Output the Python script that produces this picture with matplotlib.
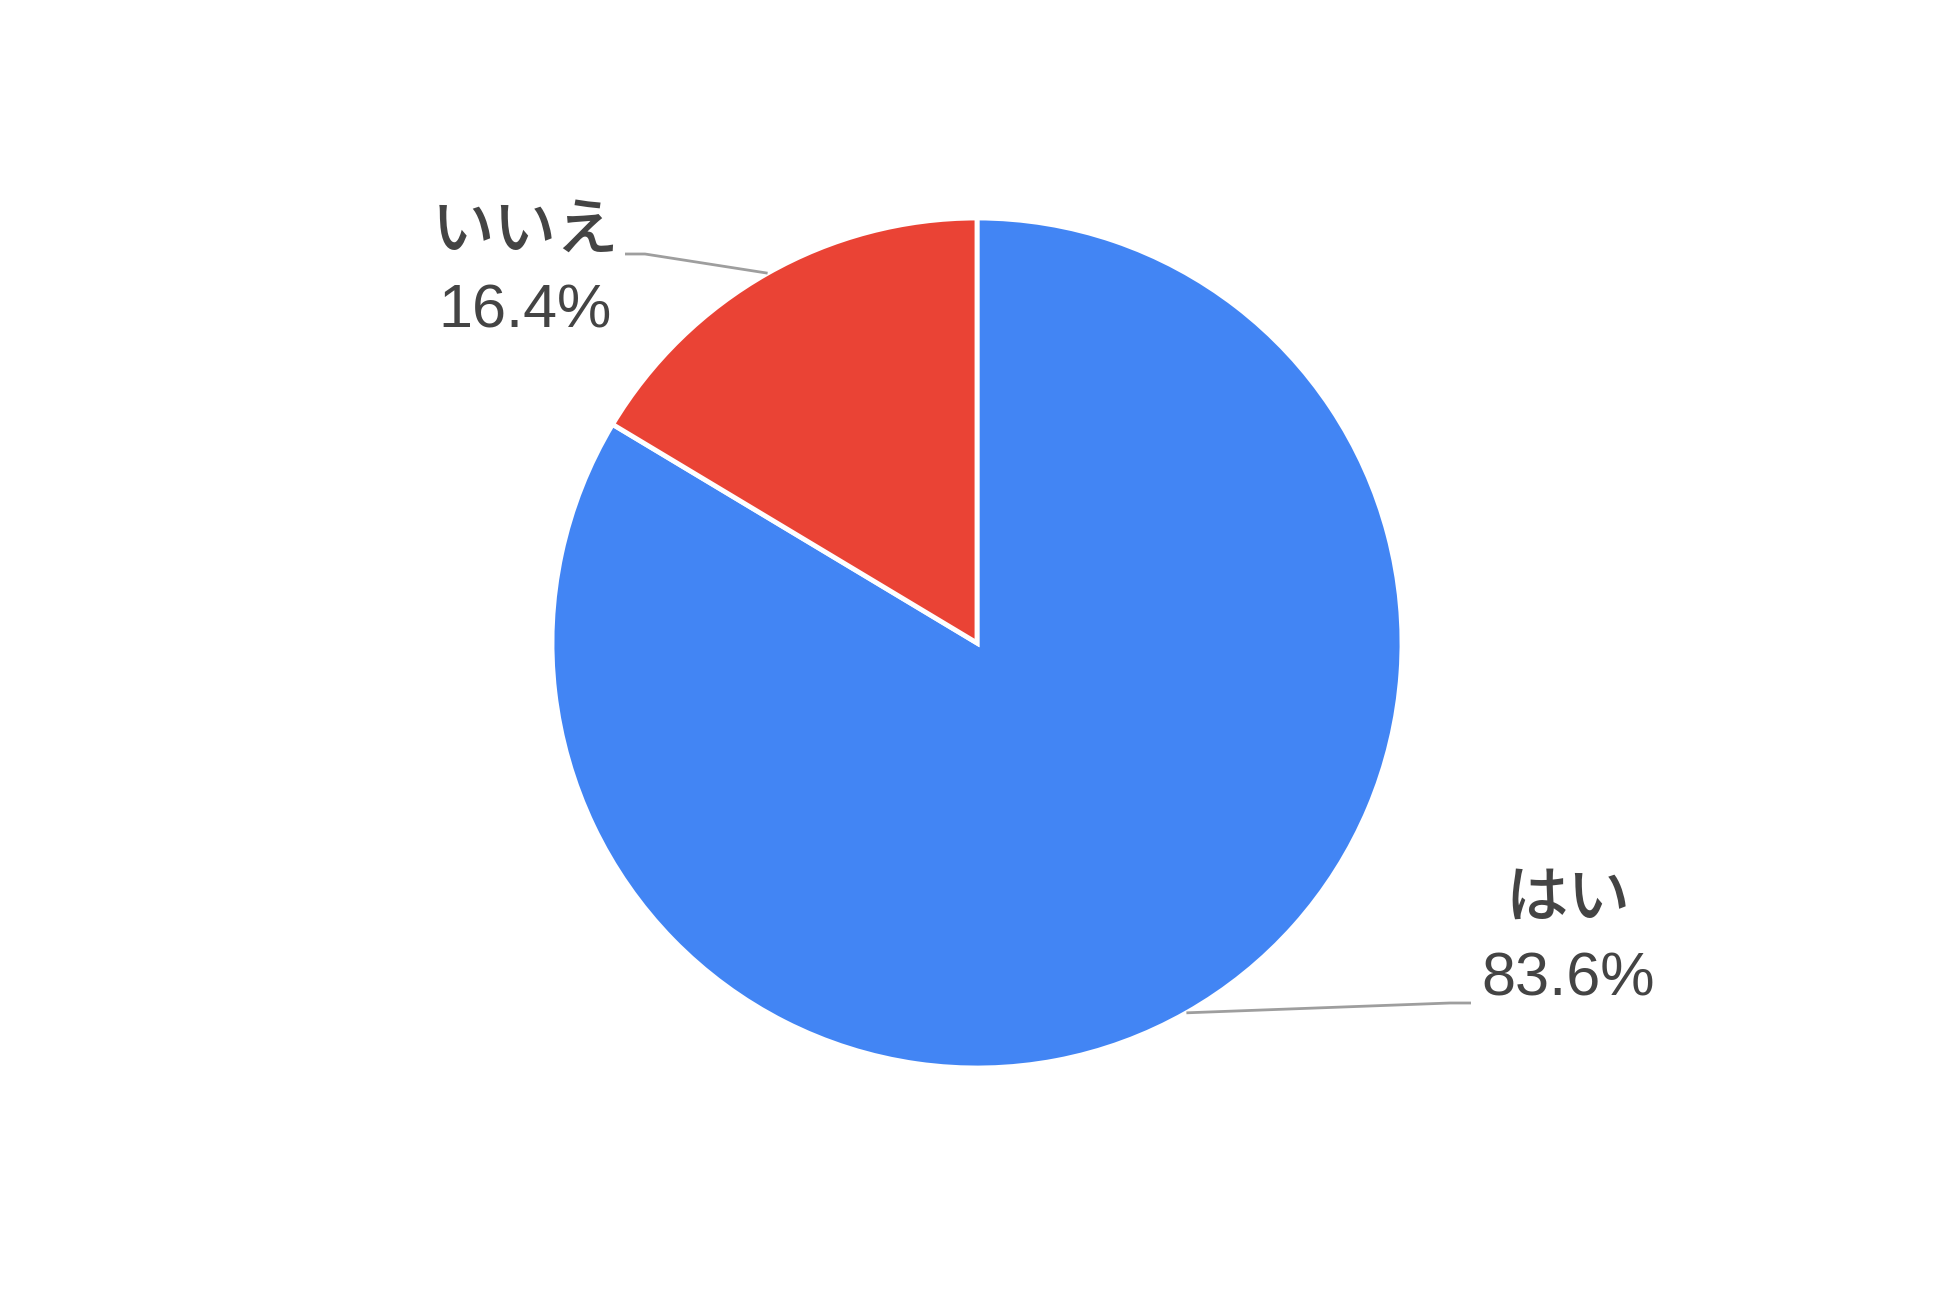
import numpy as np
import matplotlib.pyplot as plt

labels = ['はい', 'いいえ']
values = [83.6, 16.4]
colors = ['#4285F4', '#EA4335']

# label layout (pixel coords, y up)
label_pos = [(1568, 350), (525, 1018)]
elbow = [(1450, 287), (645, 1036)]
tail = [(1471, 287), (625, 1036)]

W, H = 1950, 1290
center = (977, 647)
radius = 425

fig = plt.figure(figsize=(W / 100, H / 100), dpi=100)
ax = fig.add_axes([0, 0, 1, 1])

wedges, _ = ax.pie(values, colors=colors, startangle=90, counterclock=False,
                   center=center, radius=radius,
                   wedgeprops=dict(edgecolor='white', linewidth=3.5))
ax.set_xlim(0, W)
ax.set_ylim(0, H)
ax.set_aspect('equal')
ax.axis('off')

fam = ['Liberation Sans', 'Noto Sans CJK JP']
for w, lab, v, pos, el, tl in zip(wedges, labels, values, label_pos, elbow, tail):
    mid = np.deg2rad((w.theta1 + w.theta2) / 2)
    sx = center[0] + radius * np.cos(mid)
    sy = center[1] + radius * np.sin(mid)
    ax.plot([sx, el[0], tl[0]], [sy, el[1], tl[1]], color='#9e9e9e', lw=2,
            solid_capstyle='butt')
    ax.text(pos[0], pos[1] + 40, lab, ha='center', va='center', fontsize=45,
            color='#444444', family=fam, fontweight='medium')
    ax.text(pos[0], pos[1] - 40, f'{v:.1f}%', ha='center', va='center', fontsize=44,
            color='#444444', family=fam)

fig.savefig('out.png', dpi=100, facecolor='white')
